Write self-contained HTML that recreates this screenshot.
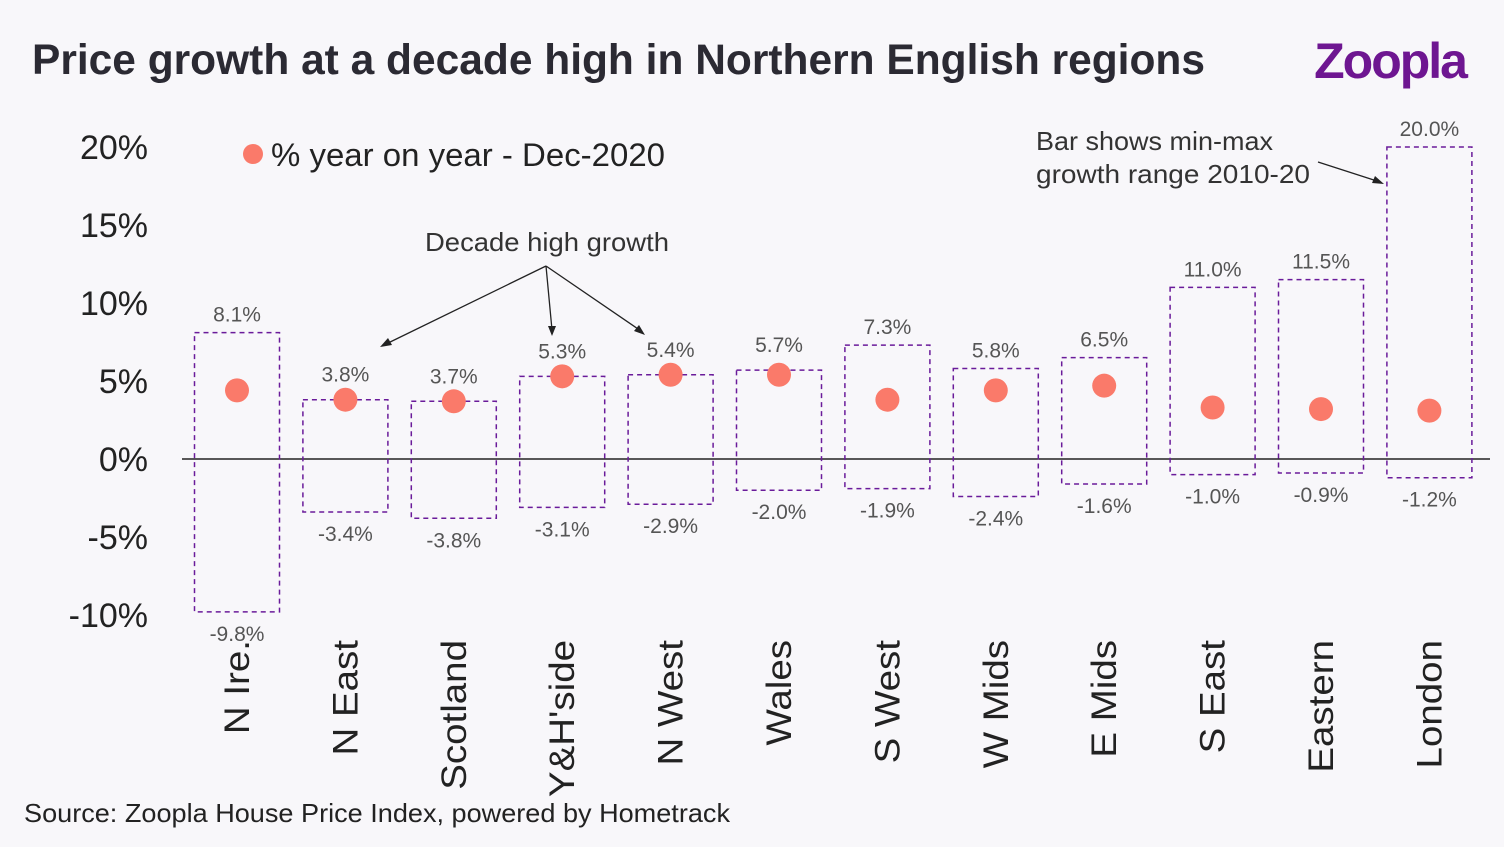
<!DOCTYPE html>
<html><head><meta charset="utf-8"><style>
body{margin:0;background:#f8f7fa;}
svg{display:block;font-family:"Liberation Sans",sans-serif;}
</style></head><body>
<svg id="c" width="1504" height="847" viewBox="0 0 1504 847" xmlns="http://www.w3.org/2000/svg">
<rect width="1504" height="847" fill="#f8f7fa"/>
<text x="32" y="74" font-size="43" font-weight="bold" fill="#2b2a33" textLength="1173" lengthAdjust="spacingAndGlyphs">Price growth at a decade high in Northern English regions</text>
<text x="1466" y="78" text-anchor="end" font-size="50" font-weight="bold" fill="#6e1691" letter-spacing="-2">Zoopla</text>
<circle cx="253" cy="154" r="10" fill="#fa7a6a"/>
<text x="271" y="166" font-size="32" fill="#222" textLength="394" lengthAdjust="spacingAndGlyphs">% year on year - Dec-2020</text>
<g>
<text x="1036" y="150" font-size="26" fill="#333" textLength="237" lengthAdjust="spacingAndGlyphs">Bar shows min-max</text>
<text x="1036" y="183" font-size="26" fill="#333" textLength="274" lengthAdjust="spacingAndGlyphs">growth range 2010-20</text>
<line x1="1318" y1="162" x2="1380" y2="182" stroke="#222" stroke-width="1.3"/>
<polygon points="1384,184 1372,183 1375,176" fill="#222"/>
</g>
<g>
<text x="547" y="251" text-anchor="middle" font-size="26" fill="#333" textLength="244" lengthAdjust="spacingAndGlyphs">Decade high growth</text>
<line x1="546" y1="266" x2="384" y2="345" stroke="#222" stroke-width="1.3"/>
<polygon points="380,347 388,338 392,345" fill="#222"/>
<line x1="546" y1="266" x2="552" y2="330" stroke="#222" stroke-width="1.3"/>
<polygon points="552,336 548,326 556,326" fill="#222"/>
<line x1="546" y1="266" x2="641" y2="331" stroke="#222" stroke-width="1.3"/>
<polygon points="645,335 634,331 639,325" fill="#222"/>
</g>
<text x="24" y="822" font-size="26" fill="#222" textLength="706" lengthAdjust="spacingAndGlyphs">Source: Zoopla House Price Index, powered by Hometrack</text>
<g id="plot"></g>
</svg>
<script>
const categories=["N Ire.","N East","Scotland","Y&H'side","N West","Wales","S West","W Mids","E Mids","S East","Eastern","London"];
const maxVals=[8.1,3.8,3.7,5.3,5.4,5.7,7.3,5.8,6.5,11.0,11.5,20.0];
const minVals=[-9.8,-3.4,-3.8,-3.1,-2.9,-2.0,-1.9,-2.4,-1.6,-1.0,-0.9,-1.2];
const yoyVals=[4.4,3.8,3.7,5.3,5.4,5.4,3.8,4.4,4.7,3.3,3.2,3.1];
const yTicks=[20,15,10,5,0,-5,-10];
const NS="http://www.w3.org/2000/svg";
const g=document.getElementById('plot');
function y(v){return 459-v*15.6;}
function x(i){return 237+i*108.4;}
function mk(t,a,p){const e=document.createElementNS(NS,t);for(const k in a)e.setAttribute(k,a[k]);p.appendChild(e);return e;}
yTicks.forEach(t=>{const e=mk('text',{x:148,y:y(t)+12,'text-anchor':'end','font-size':34,fill:'#222'},g);e.textContent=t+'%';

});
const zl=mk('line',{x1:182,x2:1490,y1:y(0),y2:y(0),stroke:'#222','stroke-width':1.5},g);


categories.forEach((c,i)=>{
const cx=x(i);
const r=mk('rect',{x:cx-42.5,y:y(maxVals[i]),width:85,height:y(minVals[i])-y(maxVals[i]),fill:'none',stroke:'#6a1b9a','stroke-width':1.5,'stroke-dasharray':'5,4'},g);


const off=(maxVals[i]-yoyVals[i]<1.2)?18:11;
const t1=mk('text',{x:cx,y:y(maxVals[i])-off,'text-anchor':'middle','font-size':21,fill:'#555'},g);t1.textContent=maxVals[i].toFixed(1)+'%';


const t2=mk('text',{x:cx,y:y(minVals[i])+29,'text-anchor':'middle','font-size':21,fill:'#555'},g);t2.textContent=minVals[i].toFixed(1)+'%';


const d=mk('circle',{cx:cx,cy:y(yoyVals[i]),r:12,fill:'#fa7a6a'},g);


const cl=mk('text',{x:0,y:0,'text-anchor':'end','font-size':35,fill:'#222',transform:`translate(${cx+12},640) rotate(-90) scale(1.1,1)`},g);cl.textContent=c;


});
</script>
</body></html>
